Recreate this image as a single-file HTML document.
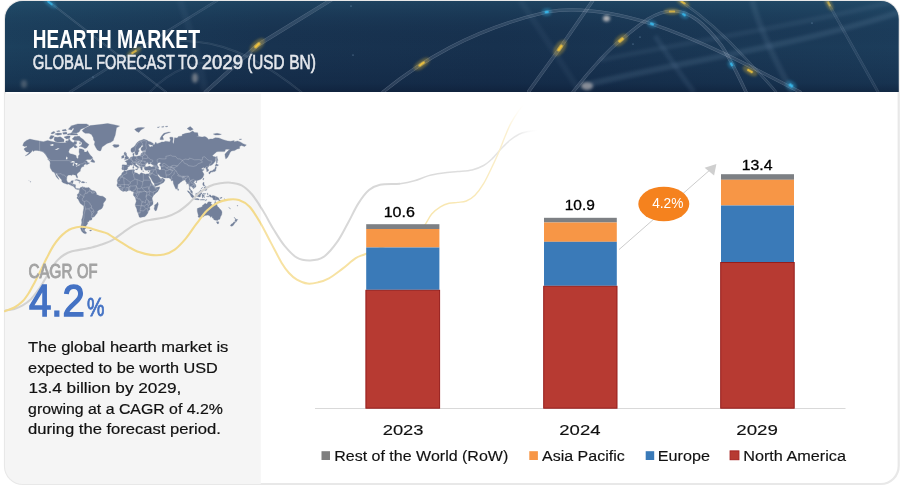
<!DOCTYPE html>
<html lang="en"><head><meta charset="utf-8"><title>Hearth Market</title>
<style>
html,body{margin:0;padding:0;background:#fff;}
body{width:900px;height:486px;overflow:hidden;font-family:"Liberation Sans",sans-serif;}
svg{display:block}
text{font-family:"Liberation Sans",sans-serif;}
</style></head><body>
<svg width="900" height="486" viewBox="0 0 900 486">
<defs>
<clipPath id="card"><rect x="5" y="1" width="893.7" height="483" rx="18" ry="18"/></clipPath>
<clipPath id="hdr"><rect x="5" y="1" width="894" height="90.9"/></clipPath>
<filter id="blur2" x="-20%" y="-20%" width="140%" height="140%"><feGaussianBlur stdDeviation="1.6"/></filter>
<filter id="blur1" x="-50%" y="-50%" width="200%" height="200%"><feGaussianBlur stdDeviation="1.2"/></filter>
<filter id="blur05" x="-50%" y="-50%" width="200%" height="200%"><feGaussianBlur stdDeviation="0.45"/></filter>
<linearGradient id="hg" x1="0" y1="0" x2="1" y2="0">
<stop offset="0" stop-color="#1c405d"/><stop offset="0.3" stop-color="#183350"/><stop offset="0.55" stop-color="#17314e"/><stop offset="0.8" stop-color="#1a3855"/><stop offset="1" stop-color="#1c3d5b"/>
</linearGradient>
<linearGradient id="hv" x1="0" y1="0" x2="0" y2="1">
<stop offset="0" stop-color="#2a5f7c" stop-opacity="0.38"/><stop offset="0.5" stop-color="#102040" stop-opacity="0"/><stop offset="0.9" stop-color="#0b1a36" stop-opacity="0.28"/><stop offset="1" stop-color="#08142c" stop-opacity="0.5"/>
</linearGradient>
<clipPath id="c1"><rect x="0" y="91" width="261" height="395"/></clipPath>
<clipPath id="c2"><rect x="261" y="91" width="139" height="395"/></clipPath>
<clipPath id="c3"><rect x="400" y="91" width="200" height="395"/></clipPath>
<linearGradient id="fadeY" gradientUnits="userSpaceOnUse" x1="400" y1="0" x2="526" y2="0">
<stop offset="0" stop-color="#f7e4a8"/><stop offset="0.6" stop-color="#f9e9b8"/><stop offset="0.85" stop-color="#fbf0d0"/><stop offset="1" stop-color="#ffffff" stop-opacity="0"/>
</linearGradient>
<linearGradient id="fadeG" gradientUnits="userSpaceOnUse" x1="400" y1="0" x2="540" y2="0">
<stop offset="0" stop-color="#d9d9d9"/><stop offset="0.6" stop-color="#e0e0e0"/><stop offset="0.85" stop-color="#e9e9e9"/><stop offset="1" stop-color="#ffffff" stop-opacity="0"/>
</linearGradient>
</defs>
<rect x="5" y="1" width="893.7" height="483" rx="18" ry="18" fill="#ffffff" stroke="#e8e8e8" stroke-width="2.2"/>
<g clip-path="url(#card)">
<rect x="5" y="93.6" width="255.8" height="392" fill="#f5f5f5"/>
<g clip-path="url(#hdr)">
<rect x="5" y="1" width="894" height="91" fill="url(#hg)"/>
<rect x="5" y="1" width="894" height="91" fill="url(#hv)"/>
<g filter="url(#blur2)" stroke="#7f9bbb" fill="none"><path d="M590 84 C 680 62 800 45 900 12" stroke-opacity="0.16" stroke-width="6"/><path d="M600 60 C 700 40 800 25 900 0" stroke-opacity="0.10" stroke-width="5"/><path d="M752 0 C 760 30 775 60 792 92" stroke-opacity="0.13" stroke-width="6"/><path d="M655 36 C 668 55 680 75 694 92" stroke-opacity="0.12" stroke-width="5"/><path d="M520 0 C 540 30 560 60 580 92" stroke-opacity="0.07" stroke-width="6"/><path d="M180 0 C 190 30 200 60 205 92" stroke-opacity="0.07" stroke-width="7"/></g><g fill="none" stroke-linecap="round"><mask id="tm1" maskUnits="userSpaceOnUse" x="0" y="0" width="900" height="92"><path d="M48 1 L166 92" stroke="#fff" stroke-width="1.9" fill="none"/><path d="M48 1 L166 92" stroke="#000" stroke-width="0.9" fill="none"/></mask><rect x="0" y="0" width="900" height="92" fill="#cdd8e6" fill-opacity="0.20" stroke="none" mask="url(#tm1)"/><path d="M48 1 L166 92" stroke="#cdd8e6" stroke-opacity="0.08" stroke-width="0.9"/><mask id="tm2" maskUnits="userSpaceOnUse" x="0" y="0" width="900" height="92"><path d="M70 92 L131.7 53.3 L218 0" stroke="#fff" stroke-width="2.5" fill="none"/><path d="M70 92 L131.7 53.3 L218 0" stroke="#000" stroke-width="1.5" fill="none"/></mask><rect x="0" y="0" width="900" height="92" fill="#cdd8e6" fill-opacity="0.20" stroke="none" mask="url(#tm2)"/><path d="M70 92 L131.7 53.3 L218 0" stroke="#cdd8e6" stroke-opacity="0.09" stroke-width="1.5"/><mask id="tm3" maskUnits="userSpaceOnUse" x="0" y="0" width="900" height="92"><path d="M205.5 92 L257.3 45.3 L331 0" stroke="#fff" stroke-width="3.7" fill="none"/><path d="M205.5 92 L257.3 45.3 L331 0" stroke="#000" stroke-width="2.7" fill="none"/></mask><rect x="0" y="0" width="900" height="92" fill="#cdd8e6" fill-opacity="0.30" stroke="none" mask="url(#tm3)"/><path d="M205.5 92 L257.3 45.3 L331 0" stroke="#cdd8e6" stroke-opacity="0.13" stroke-width="2.7"/><mask id="tm4" maskUnits="userSpaceOnUse" x="0" y="0" width="900" height="92"><path d="M180 41 C 215 40 252 52 305 95" stroke="#fff" stroke-width="1.9" fill="none"/><path d="M180 41 C 215 40 252 52 305 95" stroke="#000" stroke-width="0.9" fill="none"/></mask><rect x="0" y="0" width="900" height="92" fill="#cdd8e6" fill-opacity="0.16" stroke="none" mask="url(#tm4)"/><path d="M180 41 C 215 40 252 52 305 95" stroke="#cdd8e6" stroke-opacity="0.07" stroke-width="0.9"/><mask id="tm5" maskUnits="userSpaceOnUse" x="0" y="0" width="900" height="92"><path d="M150 92 C 170 70 200 58 230 62" stroke="#fff" stroke-width="1.9" fill="none"/><path d="M150 92 C 170 70 200 58 230 62" stroke="#000" stroke-width="0.9" fill="none"/></mask><rect x="0" y="0" width="900" height="92" fill="#cdd8e6" fill-opacity="0.12" stroke="none" mask="url(#tm5)"/><path d="M150 92 C 170 70 200 58 230 62" stroke="#cdd8e6" stroke-opacity="0.05" stroke-width="0.9"/><mask id="tm6" maskUnits="userSpaceOnUse" x="0" y="0" width="900" height="92"><path d="M383 92 C 420 62 470 30 546.7 12 C 575 7 610 11 652 24 C 700 40 750 66 800 92" stroke="#fff" stroke-width="3.2" fill="none"/><path d="M383 92 C 420 62 470 30 546.7 12 C 575 7 610 11 652 24 C 700 40 750 66 800 92" stroke="#000" stroke-width="2.2" fill="none"/></mask><rect x="0" y="0" width="900" height="92" fill="#cdd8e6" fill-opacity="0.32" stroke="none" mask="url(#tm6)"/><path d="M383 92 C 420 62 470 30 546.7 12 C 575 7 610 11 652 24 C 700 40 750 66 800 92" stroke="#cdd8e6" stroke-opacity="0.13" stroke-width="2.2"/><mask id="tm7" maskUnits="userSpaceOnUse" x="0" y="0" width="900" height="92"><path d="M529 91 L560 48 L592.5 1" stroke="#fff" stroke-width="3.4" fill="none"/><path d="M529 91 L560 48 L592.5 1" stroke="#000" stroke-width="2.4" fill="none"/></mask><rect x="0" y="0" width="900" height="92" fill="#cdd8e6" fill-opacity="0.32" stroke="none" mask="url(#tm7)"/><path d="M529 91 L560 48 L592.5 1" stroke="#cdd8e6" stroke-opacity="0.13" stroke-width="2.4"/><mask id="tm8" maskUnits="userSpaceOnUse" x="0" y="0" width="900" height="92"><path d="M573 92 C 590 70 610 48 621 40 C 640 24 655 11 673 11 C 690 11 705 24 721 45 C 730 58 738 75 746 92" stroke="#fff" stroke-width="3.2" fill="none"/><path d="M573 92 C 590 70 610 48 621 40 C 640 24 655 11 673 11 C 690 11 705 24 721 45 C 730 58 738 75 746 92" stroke="#000" stroke-width="2.2" fill="none"/></mask><rect x="0" y="0" width="900" height="92" fill="#cdd8e6" fill-opacity="0.32" stroke="none" mask="url(#tm8)"/><path d="M573 92 C 590 70 610 48 621 40 C 640 24 655 11 673 11 C 690 11 705 24 721 45 C 730 58 738 75 746 92" stroke="#cdd8e6" stroke-opacity="0.13" stroke-width="2.2"/><mask id="tm9" maskUnits="userSpaceOnUse" x="0" y="0" width="900" height="92"><path d="M679 0 C 700 14 725 36 745 58 C 758 72 768 82 776 92" stroke="#fff" stroke-width="2.5" fill="none"/><path d="M679 0 C 700 14 725 36 745 58 C 758 72 768 82 776 92" stroke="#000" stroke-width="1.5" fill="none"/></mask><rect x="0" y="0" width="900" height="92" fill="#cdd8e6" fill-opacity="0.26" stroke="none" mask="url(#tm9)"/><path d="M679 0 C 700 14 725 36 745 58 C 758 72 768 82 776 92" stroke="#cdd8e6" stroke-opacity="0.10" stroke-width="1.5"/><mask id="tm10" maskUnits="userSpaceOnUse" x="0" y="0" width="900" height="92"><path d="M826.5 0 L878 92" stroke="#fff" stroke-width="2.7" fill="none"/><path d="M826.5 0 L878 92" stroke="#000" stroke-width="1.7" fill="none"/></mask><rect x="0" y="0" width="900" height="92" fill="#cdd8e6" fill-opacity="0.20" stroke="none" mask="url(#tm10)"/><path d="M826.5 0 L878 92" stroke="#cdd8e6" stroke-opacity="0.09" stroke-width="1.7"/></g><g transform="translate(50.0 3.0) rotate(38)"><ellipse rx="8.3" ry="3.3" fill="#35b6ea" fill-opacity="0.30" filter="url(#blur1)"/><rect x="-3.2" y="-1.0" width="6.4" height="2.1" rx="0.8" fill="#35b6ea" fill-opacity="0.80" filter="url(#blur05)"/></g><g transform="translate(134.0 52.0) rotate(-32)"><ellipse rx="8.3" ry="3.6" fill="#f2c53d" fill-opacity="0.30" filter="url(#blur1)"/><rect x="-3.2" y="-1.1" width="6.4" height="2.2" rx="0.8" fill="#f2c53d" fill-opacity="0.75" filter="url(#blur05)"/></g><g transform="translate(257.3 45.3) rotate(-42)"><ellipse rx="9.4" ry="4.6" fill="#f2c53d" fill-opacity="0.30" filter="url(#blur1)"/><rect x="-3.6" y="-1.4" width="7.2" height="2.9" rx="0.8" fill="#f2c53d" fill-opacity="0.95" filter="url(#blur05)"/></g><g transform="translate(421.7 64.0) rotate(-36)"><ellipse rx="9.4" ry="4.1" fill="#f2c53d" fill-opacity="0.30" filter="url(#blur1)"/><rect x="-3.6" y="-1.3" width="7.2" height="2.6" rx="0.8" fill="#f2c53d" fill-opacity="0.90" filter="url(#blur05)"/></g><g transform="translate(546.7 12.0) rotate(-8)"><ellipse rx="5.2" ry="4.1" fill="#35b6ea" fill-opacity="0.30" filter="url(#blur1)"/><rect x="-2.0" y="-1.3" width="4.0" height="2.6" rx="0.8" fill="#35b6ea" fill-opacity="0.95" filter="url(#blur05)"/></g><g transform="translate(560.0 48.0) rotate(-55)"><ellipse rx="9.4" ry="5.1" fill="#f2c53d" fill-opacity="0.30" filter="url(#blur1)"/><rect x="-3.6" y="-1.6" width="7.2" height="3.2" rx="0.8" fill="#f2c53d" fill-opacity="0.95" filter="url(#blur05)"/></g><g transform="translate(621.0 40.0) rotate(-40)"><ellipse rx="8.3" ry="4.6" fill="#f2c53d" fill-opacity="0.30" filter="url(#blur1)"/><rect x="-3.2" y="-1.4" width="6.4" height="2.9" rx="0.8" fill="#f2c53d" fill-opacity="0.90" filter="url(#blur05)"/></g><g transform="translate(652.0 24.0) rotate(20)"><ellipse rx="5.2" ry="3.8" fill="#35b6ea" fill-opacity="0.30" filter="url(#blur1)"/><rect x="-2.0" y="-1.2" width="4.0" height="2.4" rx="0.8" fill="#35b6ea" fill-opacity="0.95" filter="url(#blur05)"/></g><g transform="translate(672.0 11.5) rotate(0)"><ellipse rx="8.3" ry="3.3" fill="#f2c53d" fill-opacity="0.30" filter="url(#blur1)"/><rect x="-3.2" y="-1.0" width="6.4" height="2.1" rx="0.8" fill="#f2c53d" fill-opacity="0.70" filter="url(#blur05)"/></g><g transform="translate(684.0 14.7) rotate(35)"><ellipse rx="5.2" ry="3.8" fill="#35b6ea" fill-opacity="0.30" filter="url(#blur1)"/><rect x="-2.0" y="-1.2" width="4.0" height="2.4" rx="0.8" fill="#35b6ea" fill-opacity="0.90" filter="url(#blur05)"/></g><g transform="translate(683.0 2.5) rotate(30)"><ellipse rx="7.3" ry="3.3" fill="#f2c53d" fill-opacity="0.30" filter="url(#blur1)"/><rect x="-2.8" y="-1.0" width="5.6" height="2.1" rx="0.8" fill="#f2c53d" fill-opacity="0.80" filter="url(#blur05)"/></g><g transform="translate(731.5 64.4) rotate(60)"><ellipse rx="4.8" ry="3.8" fill="#35b6ea" fill-opacity="0.30" filter="url(#blur1)"/><rect x="-1.8" y="-1.2" width="3.7" height="2.4" rx="0.8" fill="#35b6ea" fill-opacity="0.95" filter="url(#blur05)"/></g><g transform="translate(750.0 71.0) rotate(30)"><ellipse rx="8.3" ry="3.8" fill="#f2c53d" fill-opacity="0.30" filter="url(#blur1)"/><rect x="-3.2" y="-1.2" width="6.4" height="2.4" rx="0.8" fill="#f2c53d" fill-opacity="0.85" filter="url(#blur05)"/></g><g transform="translate(791.0 85.5) rotate(35)"><ellipse rx="6.2" ry="4.6" fill="#35b6ea" fill-opacity="0.30" filter="url(#blur1)"/><rect x="-2.4" y="-1.4" width="4.8" height="2.9" rx="0.8" fill="#35b6ea" fill-opacity="0.95" filter="url(#blur05)"/></g><g transform="translate(829.0 4.0) rotate(62)"><ellipse rx="7.3" ry="3.1" fill="#f2c53d" fill-opacity="0.30" filter="url(#blur1)"/><rect x="-2.8" y="-1.0" width="5.6" height="1.9" rx="0.8" fill="#f2c53d" fill-opacity="0.60" filter="url(#blur05)"/></g><g filter="url(#blur2)"><ellipse cx="606.5" cy="18.5" rx="3.5" ry="3" fill="#e6ddd8" fill-opacity="0.75"/><ellipse cx="587" cy="86" rx="6" ry="4" fill="#e6ddd8" fill-opacity="0.55"/><ellipse cx="195" cy="78" rx="3" ry="5" fill="#d8cfc8" fill-opacity="0.45"/><ellipse cx="24" cy="84" rx="3" ry="4" fill="#d8cfc8" fill-opacity="0.25"/></g><circle cx="351" cy="6" r="0.6" fill="#9fc4e8" fill-opacity="0.7"/><circle cx="353" cy="55" r="0.6" fill="#9fc4e8" fill-opacity="0.7"/><circle cx="93" cy="77" r="0.6" fill="#9fc4e8" fill-opacity="0.7"/><circle cx="640" cy="37" r="0.6" fill="#9fc4e8" fill-opacity="0.7"/><circle cx="812" cy="23" r="0.6" fill="#9fc4e8" fill-opacity="0.7"/><circle cx="633" cy="44" r="0.6" fill="#9fc4e8" fill-opacity="0.7"/><circle cx="830" cy="5" r="0.6" fill="#9fc4e8" fill-opacity="0.7"/>
</g>
</g>
<!-- map -->
<path d="M22.7 145.5L23.9 142.5L26.4 140.4L29.9 139.1L34.0 140.0L39.6 141.0L43.3 141.7L47.7 140.4L50.8 141.2L55.8 142.3L60.2 142.8L64.6 142.8L67.7 142.3L69.0 138.5L70.8 141.2L73.3 142.8L74.6 141.2L76.8 141.7L76.5 143.9L74.0 144.9L72.7 147.0L69.6 149.0L68.6 151.9L69.9 153.7L72.7 154.2L76.1 155.5L76.5 157.7L77.7 158.8L78.3 158.1L78.3 155.9L79.6 154.2L79.0 152.1L79.3 148.7L81.8 149.0L84.0 150.0L84.3 152.1L86.5 152.1L87.4 150.6L89.0 153.2L90.2 155.0L91.8 156.4L92.7 158.1L90.8 159.6L87.1 159.6L85.2 160.6L87.1 161.0L87.4 162.6L89.6 163.0L87.7 164.2L86.5 164.8L86.5 163.8L84.6 164.6L83.6 165.7L84.0 166.3L81.8 167.1L80.8 168.7L80.2 170.2L80.5 171.1L79.0 172.1L77.1 173.8L76.9 175.1L77.7 177.0L77.4 178.1L76.6 177.5L76.0 176.2L75.5 174.9L74.3 174.9L72.7 174.6L71.8 175.4L70.5 175.1L68.6 175.1L67.1 176.2L66.8 178.2L66.6 179.9L67.4 181.9L68.6 182.7L70.5 182.5L71.1 180.9L73.3 180.6L73.0 182.2L72.4 184.2L74.0 184.3L75.6 184.8L75.4 186.8L75.8 188.0L76.8 188.7L78.0 188.4L79.3 189.0L78.6 189.6L77.7 189.6L76.8 189.3L75.8 189.1L74.6 188.0L74.0 187.1L73.0 186.1L71.8 185.8L70.2 185.1L68.6 184.0L67.1 184.3L65.2 183.5L63.0 182.7L61.8 181.4L61.8 179.9L60.2 178.2L59.3 177.1L57.7 175.5L57.1 174.0L56.0 173.6L56.1 174.8L57.4 176.5L58.6 178.6L59.1 179.6L57.7 178.4L56.1 176.5L55.5 174.8L54.6 173.0L53.6 172.0L52.4 171.6L51.5 170.0L50.3 168.0L50.0 166.1L50.2 163.0L49.8 161.1L50.8 160.6L49.6 159.3L48.0 158.5L46.5 155.9L45.2 154.2L43.3 152.3L41.5 151.4L39.6 150.9L37.1 150.4L34.9 150.4L33.0 151.6L32.7 150.0L31.4 151.9L29.6 153.7L27.7 155.0L25.2 155.9L27.1 154.4L28.9 152.8L28.9 152.1L26.4 151.9L24.9 150.4L23.9 149.0L24.9 148.0L27.1 147.0L26.8 146.0L24.6 146.5ZM77.7 136.2L80.2 137.3L83.3 139.4L85.8 142.3L89.0 144.4L87.7 146.5L86.5 148.0L84.9 148.5L82.7 147.2L80.8 146.5L79.0 146.5L81.5 144.9L82.1 142.8L79.0 140.6L74.6 140.4L72.1 138.9L74.6 136.5ZM54.0 139.4L54.6 137.1L57.7 137.3L60.2 136.8L61.8 137.7L64.0 139.4L64.0 141.7L60.8 141.9L57.1 141.9L54.9 141.2ZM49.3 138.3L50.8 135.5L54.3 135.9L52.7 138.3L50.8 139.2ZM71.5 132.7L74.0 128.8L70.8 126.1L77.7 123.9L86.5 123.9L89.0 125.2L85.2 127.4L80.8 129.3L79.0 132.0L76.5 132.9ZM68.3 134.0L71.5 132.9L77.1 133.7L77.7 135.0L70.8 135.1ZM54.6 134.0L57.7 133.1L61.5 133.3L61.5 134.6L57.7 135.2ZM68.3 129.3L70.8 126.4L73.3 127.4L71.5 130.0ZM64.0 137.1L67.1 135.9L70.2 135.9L69.6 138.3L66.5 138.9ZM62.7 132.7L66.5 132.0L67.1 134.0L63.3 134.2ZM62.1 130.0L65.8 129.3L66.5 130.7L62.7 131.1ZM73.3 145.5L75.2 144.9L77.4 147.0L75.8 148.0L74.0 147.3ZM90.6 161.6L92.7 158.5L93.0 159.8L94.6 161.0L94.6 162.4L92.7 162.2ZM47.5 159.1L49.6 159.8L50.5 161.1L49.3 160.7ZM74.6 180.2L76.5 179.4L79.0 180.0L81.3 181.4L79.3 181.6L79.0 181.1L76.8 180.2ZM81.2 182.5L82.1 181.6L84.0 181.7L85.0 182.5L83.3 182.9ZM78.8 182.6L80.0 182.7L79.6 183.0ZM85.7 182.5L86.6 182.6L86.1 182.9ZM30.2 181.4L30.8 181.7L30.5 182.2L30.1 181.8ZM28.8 180.5L29.2 180.7L28.9 180.8ZM82.1 130.4L85.2 128.1L90.2 125.6L99.6 124.6L107.7 123.5L114.0 124.7L119.6 126.1L116.5 127.8L115.8 132.0L115.2 135.2L114.0 138.3L113.3 140.6L110.8 142.3L107.1 143.4L104.6 145.3L102.1 147.0L100.8 150.7L99.6 150.9L97.4 150.0L95.8 147.5L94.3 144.4L94.9 141.7L93.6 140.0L93.3 137.7L91.5 134.6L89.0 133.3L85.2 133.3L83.3 132.0ZM112.5 145.5L114.0 144.5L116.5 144.7L118.6 144.7L119.2 146.0L118.3 146.7L116.1 147.6L113.6 147.1L114.0 146.2ZM79.3 189.0L80.5 187.5L82.1 187.1L83.0 186.5L83.0 187.5L84.0 186.9L85.2 187.7L87.4 187.8L89.0 187.6L90.2 189.0L92.1 190.6L94.0 190.7L95.5 191.5L96.5 193.4L96.5 194.4L97.7 195.0L99.9 196.0L102.7 196.2L104.6 197.6L105.8 198.5L105.8 200.1L104.3 202.0L103.3 203.3L103.3 205.6L102.1 208.2L100.8 209.2L99.0 209.9L97.4 211.3L97.3 213.0L95.8 214.7L94.3 216.8L92.4 217.4L91.3 216.8L92.1 218.5L91.6 219.9L89.0 220.4L88.8 221.8L87.1 221.9L87.9 223.1L86.8 225.0L85.5 226.2L86.6 227.4L84.6 229.5L84.9 231.0L86.8 233.1L85.2 233.8L83.3 232.9L81.5 231.1L80.5 228.2L81.1 225.8L81.8 222.7L81.6 219.7L82.4 217.5L83.0 214.7L83.1 211.9L83.8 208.6L83.8 206.1L82.7 205.3L80.2 203.3L79.5 202.0L78.3 199.5L77.0 198.2L77.1 197.1L77.7 196.4L77.2 195.0L77.7 193.9L78.5 193.4L79.3 191.9L79.4 190.3ZM89.6 230.3L91.5 230.1L91.1 231.0L89.9 231.0ZM122.1 169.8L121.8 168.6L122.2 166.9L122.0 165.3L122.7 164.8L125.5 164.9L126.8 165.0L127.0 163.0L126.0 161.8L124.8 161.2L126.8 160.8L126.6 160.0L127.8 160.2L128.7 159.0L129.9 158.6L130.6 157.2L132.1 156.8L133.2 156.4L132.9 155.0L132.8 153.7L134.3 153.1L134.1 154.2L133.9 155.5L134.6 156.4L136.4 156.4L139.3 155.8L140.1 156.0L140.8 155.0L140.9 153.7L141.8 153.1L142.8 153.5L142.4 151.7L145.2 151.4L146.4 150.9L145.2 150.4L143.3 150.7L141.8 150.9L141.0 149.5L141.1 148.0L143.3 146.0L142.7 145.2L141.4 145.5L141.0 146.7L138.9 148.5L138.4 150.0L139.4 151.1L138.1 152.3L138.0 154.2L136.6 155.0L135.7 155.0L135.5 154.2L134.7 152.1L134.3 151.4L132.7 152.6L131.3 152.1L130.8 150.0L131.4 148.3L133.3 147.3L135.2 145.5L136.4 143.4L137.7 141.9L139.6 140.8L141.4 140.2L143.8 139.3L145.5 139.7L147.1 140.2L148.3 141.3L150.8 141.9L153.3 143.4L153.3 144.7L151.4 144.9L148.9 144.2L148.3 144.4L149.3 146.0L149.6 146.7L151.1 147.0L151.4 146.2L153.0 146.4L152.7 144.9L154.6 144.6L155.2 143.0L155.5 142.3L156.4 142.8L156.8 144.1L157.7 143.4L160.8 142.5L161.4 141.9L163.9 141.9L165.5 141.2L167.7 141.4L169.6 141.9L170.5 139.7L169.6 137.7L170.8 137.1L173.0 137.4L173.0 139.4L172.7 142.3L173.6 143.9L173.9 142.3L174.3 138.9L174.6 137.7L176.4 138.0L178.0 137.4L178.3 136.5L182.1 135.9L182.1 134.6L185.8 133.3L189.6 132.7L192.7 131.1L194.6 132.4L197.7 132.7L198.3 135.9L196.4 136.1L198.6 136.5L202.1 137.1L204.9 136.5L207.1 137.7L208.6 139.4L210.2 138.9L212.7 138.9L215.2 137.7L218.9 137.9L221.4 138.9L223.3 139.7L227.7 140.9L230.8 141.2L234.3 140.6L233.9 141.7L237.7 140.9L240.2 141.9L243.6 143.9L246.4 144.9L244.6 146.5L241.4 145.5L239.6 146.5L239.6 148.5L237.1 149.0L234.6 150.6L231.4 150.9L229.9 152.8L229.3 154.2L228.6 155.5L227.7 157.2L225.8 158.9L225.2 156.8L224.9 154.2L226.1 152.8L228.3 150.6L229.9 149.5L227.7 149.3L225.8 149.3L224.6 151.6L222.1 151.6L218.9 151.6L216.8 151.7L213.9 154.2L212.3 155.8L213.6 156.4L215.8 157.0L215.5 158.9L215.4 161.0L213.9 163.0L212.4 164.6L210.8 165.5L209.6 165.6L208.8 166.5L207.7 167.6L207.4 168.1L208.6 169.8L208.5 170.9L207.4 171.5L206.6 171.5L206.8 170.0L205.8 169.1L206.1 168.0L205.4 167.6L203.6 168.4L203.9 167.1L202.1 168.2L201.3 168.7L202.1 169.6L203.3 169.4L204.3 169.8L203.0 170.5L202.3 171.3L203.2 172.8L203.9 174.1L203.8 175.1L203.0 176.9L202.3 177.9L200.8 179.2L198.9 180.0L197.1 180.6L196.6 181.4L196.3 180.6L195.2 180.5L194.3 181.6L193.8 182.3L194.9 183.8L195.8 185.1L196.0 186.8L194.6 187.8L193.3 188.9L193.3 188.0L192.4 187.6L191.8 186.8L190.8 186.3L190.4 185.8L190.2 186.8L189.8 188.0L190.4 189.1L190.8 190.1L191.8 190.6L192.4 191.5L192.4 192.8L192.8 193.5L191.8 193.1L191.0 192.5L190.4 191.2L190.2 190.3L189.1 189.3L189.3 188.0L189.3 186.8L188.8 184.8L188.6 183.8L187.7 183.6L186.6 184.2L186.8 182.9L186.1 181.9L185.2 180.6L184.9 179.8L183.9 180.2L183.0 180.4L182.1 180.9L181.8 181.6L180.8 181.9L179.3 183.6L177.9 184.4L177.8 186.1L177.6 187.8L177.1 188.5L176.6 188.8L176.1 189.3L175.4 188.2L174.6 186.4L173.9 184.8L173.3 183.2L173.2 181.9L173.1 180.9L173.0 180.2L171.8 181.0L170.8 180.1L171.4 179.7L170.4 179.1L169.6 178.4L169.3 177.9L166.4 178.1L163.6 177.9L163.2 176.9L161.8 177.1L159.9 176.3L159.1 174.8L158.2 174.6L157.7 174.9L158.1 176.0L158.9 177.1L159.1 177.7L159.9 177.6L159.9 178.6L161.4 178.8L162.8 177.4L163.0 178.4L164.4 179.2L165.1 179.9L164.3 181.3L163.8 182.2L162.2 183.3L160.3 184.2L158.3 185.3L155.8 186.2L154.9 186.3L154.4 184.9L154.3 183.5L153.0 181.9L152.1 180.6L151.4 178.9L150.5 177.5L149.6 176.2L149.4 175.1L149.1 176.3L148.4 175.6L148.1 174.8L147.9 174.0L149.1 173.8L149.6 172.7L150.2 170.9L150.2 170.0L148.9 170.3L147.7 170.2L146.8 170.3L145.8 170.3L144.9 169.8L144.3 168.7L144.3 168.0L144.1 167.5L145.8 166.9L147.4 166.7L149.6 166.1L151.4 166.9L153.6 166.5L153.6 165.6L152.1 164.6L151.1 163.8L150.8 163.5L151.8 162.2L149.6 162.8L150.5 163.5L149.6 163.9L148.6 164.2L148.1 163.2L148.3 162.8L147.1 162.5L146.4 163.4L145.7 164.2L145.2 165.3L145.2 166.1L145.5 166.6L144.3 167.0L142.7 167.0L142.4 167.6L141.9 167.4L142.1 168.4L142.7 169.1L142.1 169.5L142.1 170.2L141.4 170.0L140.9 169.2L140.8 168.4L139.9 167.2L139.9 166.1L138.6 165.3L137.4 164.6L136.8 163.6L136.2 163.4L135.4 163.5L135.5 164.6L136.3 165.1L137.7 166.3L139.3 167.5L138.3 167.2L138.1 168.4L137.7 169.1L137.5 169.1L137.8 168.0L137.4 167.5L136.4 166.9L135.4 166.3L134.3 165.3L133.2 164.3L132.4 164.7L131.4 165.3L130.2 164.9L129.6 165.3L129.7 166.1L128.3 166.8L127.7 167.6L127.5 168.1L127.8 168.5L127.3 169.3L126.5 170.0L124.9 170.0L124.2 170.5L123.8 170.0L123.1 169.7ZM124.0 170.7L126.5 171.1L128.3 170.2L129.6 169.9L132.1 169.8L133.9 169.6L134.6 169.9L134.3 170.9L134.1 172.0L134.6 172.6L135.8 172.8L137.3 173.2L138.6 174.2L139.9 174.5L140.2 173.4L141.4 172.8L143.3 173.6L145.8 174.2L147.1 173.8L147.9 174.0L148.1 174.8L148.6 176.2L148.9 177.2L149.9 178.9L150.8 180.6L151.0 182.2L151.8 182.9L152.4 184.5L153.5 185.5L154.7 186.4L154.8 187.1L155.5 187.7L157.1 187.3L159.7 186.8L159.4 188.4L158.3 190.6L157.4 191.9L155.8 193.1L154.3 194.7L153.3 195.7L152.4 197.4L152.1 198.5L152.4 200.1L153.0 201.4L153.0 203.7L152.4 205.0L150.8 205.9L149.6 207.2L149.9 209.6L148.3 210.9L148.1 212.3L147.4 213.7L145.8 215.8L144.6 216.7L142.7 216.9L140.2 217.4L139.2 217.0L138.8 215.4L138.0 213.0L137.1 211.3L136.8 208.9L135.5 206.3L135.1 205.0L135.9 202.4L136.3 201.1L135.4 198.2L135.0 196.9L133.6 195.7L133.3 194.1L133.8 192.8L133.6 191.9L133.0 191.5L132.1 191.6L131.1 190.9L130.2 190.3L128.3 190.6L126.5 191.4L124.9 191.1L123.0 191.6L121.8 190.7L120.5 190.0L119.4 188.7L119.0 187.8L118.2 187.2L117.3 186.4L116.8 185.0L117.4 183.8L117.6 182.2L117.1 180.9L117.7 179.1L118.6 177.4L119.6 176.3L120.6 175.6L121.5 174.9L121.6 173.9L122.4 172.5L123.5 171.9ZM157.7 202.1L158.3 204.3L157.8 205.9L156.6 210.2L155.3 210.9L154.3 209.2L154.1 208.2L154.6 206.9L154.6 205.0L156.0 204.3L156.9 203.2ZM124.3 159.7L125.5 159.4L127.7 159.1L128.6 158.8L128.8 157.5L127.9 157.2L127.6 156.4L126.8 155.5L126.5 154.6L126.5 153.2L125.2 153.2L125.8 152.2L124.6 152.2L124.0 153.2L124.3 154.6L124.7 155.5L125.6 155.6L125.8 156.8L124.9 157.0L125.0 157.9L124.5 158.3L125.6 158.6L125.0 158.9ZM121.5 158.3L123.8 157.9L124.0 156.8L124.1 155.7L123.0 155.2L122.4 155.9L121.5 156.4L121.8 157.2ZM209.1 172.3L209.6 171.8L210.5 171.1L212.4 170.8L213.3 169.7L214.3 169.5L215.2 167.8L215.4 166.7L216.1 166.6L216.4 168.0L215.8 169.1L215.8 170.5L215.2 171.3L214.3 171.5L213.3 171.6L212.7 172.3L212.1 171.6L210.8 172.6L210.2 172.7L209.9 173.8L209.1 173.9L208.8 172.8ZM215.2 166.1L215.5 165.1L216.3 163.5L217.4 164.4L218.6 164.9L217.4 166.1L216.1 165.7ZM216.4 163.0L217.4 162.4L217.1 160.2L218.0 160.6L217.2 158.1L217.1 156.2L216.4 156.8L216.4 159.8ZM202.8 179.6L203.3 178.1L203.9 178.2L203.3 180.2ZM195.6 182.1L196.8 181.6L197.1 181.9L196.1 182.7ZM177.6 188.2L178.4 189.0L178.8 190.0L178.0 190.6L177.6 190.0ZM203.0 182.5L204.1 182.5L203.9 184.2L205.2 186.1L204.6 185.8L203.3 185.7L203.0 185.1L202.7 184.2ZM203.9 190.0L204.9 189.0L206.1 188.2L206.8 189.6L206.1 190.6L205.2 190.3ZM203.9 186.9L204.7 187.1L206.1 186.4L206.0 187.8L204.9 188.4L204.3 187.7ZM201.0 189.0L202.4 187.2L202.6 187.5L201.3 189.1ZM195.8 193.4L197.1 193.3L198.3 192.4L199.6 191.2L200.8 190.0L202.1 191.1L201.3 192.2L202.1 193.8L201.1 194.1L200.5 195.4L200.2 196.9L199.3 196.9L197.7 196.5L196.6 196.2L195.8 194.7ZM187.3 190.8L188.6 191.1L190.5 193.0L192.4 194.4L193.9 196.3L193.8 198.1L193.0 198.1L191.4 196.9L190.4 195.0L189.3 193.3L188.3 192.4ZM193.5 198.7L194.4 198.2L195.5 198.7L197.1 198.5L198.3 198.8L199.3 199.4L199.1 199.9L197.1 199.7L195.2 199.4ZM202.4 197.9L202.4 196.6L201.9 196.2L202.6 194.1L203.3 193.6L205.2 193.8L205.9 193.4L205.5 194.1L203.3 194.1L202.8 195.0L203.6 195.0L204.8 194.9L203.9 195.5L203.6 195.7L204.6 196.9L204.3 197.8L203.3 196.3L202.9 196.3L202.9 197.9ZM200.2 199.7L202.1 199.6L204.6 199.6L204.4 200.1L202.1 200.1L200.2 200.1ZM204.9 201.0L207.1 199.7L205.8 199.7ZM207.4 193.1L208.0 193.4L208.0 194.9L207.5 194.6ZM206.4 196.4L209.4 196.3L209.3 196.8L207.1 196.7ZM208.8 194.9L210.6 194.9L211.3 196.5L212.8 195.5L215.0 196.0L217.5 197.3L219.1 198.2L218.6 198.8L219.4 199.8L221.0 201.0L219.4 200.9L218.1 199.8L216.6 199.8L216.3 200.2L215.0 200.2L213.8 199.5L213.1 199.7L213.0 198.5L213.6 199.0L211.9 197.3L210.0 196.9L209.9 196.2L210.6 196.0L209.4 195.8ZM219.7 197.9L221.3 197.6L222.1 197.1L221.9 197.9L220.6 198.4ZM197.3 208.6L197.3 211.3L198.0 214.0L198.4 215.4L198.0 217.0L199.8 217.5L201.1 216.8L203.3 216.8L204.8 215.6L206.7 215.2L208.0 215.0L209.8 215.9L210.8 217.4L212.0 216.1L212.3 217.9L213.3 218.3L213.9 219.7L215.8 220.3L217.7 220.4L218.6 219.6L219.8 219.2L220.5 216.8L221.7 214.7L222.0 212.6L221.7 210.9L220.5 209.6L219.5 208.6L218.6 207.2L217.5 206.6L217.0 205.0L216.9 204.0L215.8 203.5L215.6 202.0L215.2 201.2L214.7 202.7L214.5 204.3L213.9 205.6L213.0 205.6L212.0 204.6L210.8 204.0L211.1 202.7L211.6 202.2L210.5 202.0L208.9 201.7L208.0 202.2L207.3 203.0L207.0 204.0L206.1 204.0L205.5 203.3L204.5 203.7L203.6 204.8L202.5 205.3L202.5 206.3L201.1 207.2L199.2 207.7ZM216.5 221.7L218.8 221.8L218.6 223.6L217.7 223.9L216.8 222.9ZM234.1 217.1L235.3 218.6L236.2 219.3L237.8 219.5L236.8 220.8L235.9 222.4L235.4 222.2L235.6 221.2L234.8 220.7L235.4 219.7L235.3 219.0L234.3 217.5ZM234.1 221.6L235.1 222.5L234.2 224.1L233.1 225.6L231.8 226.3L230.3 225.8L231.2 224.2L232.9 223.3ZM228.7 207.4L230.6 208.7L230.3 208.8L228.6 207.6ZM237.0 205.6L237.8 205.6L237.6 206.1L237.0 206.0ZM224.2 198.8L226.7 200.1L226.4 200.4L224.1 199.1ZM134.6 129.3L137.7 127.8L141.4 127.4L144.6 127.8L140.8 130.0L138.9 132.4L136.4 131.3ZM159.9 139.4L162.1 139.8L163.6 139.4L162.7 136.5L165.2 134.0L170.5 132.3L168.9 132.0L163.9 133.3L162.1 135.2L160.8 137.1ZM187.1 128.6L190.2 126.4L193.3 129.3L190.2 130.7ZM213.3 134.0L217.1 133.3L221.4 134.3L218.9 134.9L215.2 135.0ZM157.1 127.4L159.6 126.7L158.9 127.5ZM161.4 127.0L163.9 126.2L163.3 127.3ZM165.2 126.5L167.7 126.1L167.1 127.0ZM239.3 139.2L241.4 138.9L241.4 139.4L239.6 139.7ZM135.5 169.1L137.4 168.9L137.1 170.0L135.5 169.4ZM132.8 166.9L133.8 166.9L133.7 168.2L132.9 168.4ZM133.1 165.7L133.6 165.3L133.6 166.5L133.1 166.4ZM142.4 170.9L144.1 171.1L143.9 171.3L142.4 171.1ZM147.9 171.3L149.3 170.8L148.8 171.5L148.0 171.5ZM50.8 133.3L53.3 131.6L55.2 132.0L54.0 133.3L52.1 134.0ZM56.5 131.2L59.0 130.4L60.2 131.3L57.7 131.7ZM65.5 141.2L67.4 140.6L68.0 142.0L66.1 142.2ZM67.4 134.0L69.3 133.8L69.3 134.9L67.7 134.9ZM77.1 136.3L79.6 136.3L79.9 137.2L77.7 137.3ZM79.3 142.8L80.5 142.6L80.6 143.6L79.6 143.7Z" fill="#73809a" stroke="#73809a" stroke-width="0.3" stroke-linejoin="round"/>
<path d="M158.6 162.8L160.2 162.4L160.7 163.5L159.7 164.1L159.4 165.3L160.5 166.3L160.8 167.6L161.1 169.4L159.9 169.8L158.8 169.4L158.5 168.4L158.8 167.2L157.7 165.7L157.3 164.3L157.9 163.3ZM70.2 162.4L72.7 161.0L74.6 161.6L74.8 162.6L73.3 162.5L71.5 162.4ZM72.8 166.1L72.7 164.2L74.0 163.0L74.6 163.4L73.8 164.6L73.6 166.1ZM74.9 163.0L77.1 163.0L77.7 164.0L76.6 165.2L76.0 164.6L75.5 163.8ZM75.6 166.3L78.3 165.4L78.0 164.7L79.9 164.6L79.9 165.0L78.1 165.7L76.8 166.5ZM49.6 144.9L52.7 143.9L54.0 144.9L52.1 146.0ZM54.6 150.0L57.7 148.2L59.6 148.5L57.1 149.8ZM65.8 159.3L66.5 156.5L67.4 157.2L67.4 159.3Z" fill="#f5f5f5"/>
<path d="M50.8 160.6L68.3 160.6L72.1 161.4L74.9 162.6L76.1 163.8L76.1 166.1L78.3 165.3L79.9 164.6L81.0 163.8L83.0 163.8L84.0 162.6L84.6 161.9L85.3 162.2L85.8 163.8M39.6 141.0L39.6 150.9L43.3 151.9L46.5 155.0M54.6 173.0L58.3 173.9L60.2 173.8L61.1 173.5L62.4 175.1L64.3 174.9L65.5 176.5L66.9 177.5M70.2 185.1L70.8 184.2L71.1 183.0L72.0 183.0L72.4 184.2M72.0 183.0L70.8 183.0L70.5 182.5M71.8 185.8L71.9 185.2L72.4 184.5M73.0 186.1L73.5 185.6L74.6 184.9L75.6 184.8M74.1 187.3L75.2 187.5L75.5 187.5M75.8 189.1L76.0 188.3M95.5 191.5L94.0 192.9L92.7 193.1L90.2 191.2L87.7 191.9L87.7 193.1L85.8 193.4L84.0 194.4L84.0 197.1L82.1 198.8L82.7 200.8L84.3 201.4L86.9 200.8L89.9 203.1L90.2 204.8L91.5 205.6L91.6 207.2L91.5 208.6L92.9 208.8L93.6 210.9L94.1 212.1L91.8 214.1L94.3 216.8M85.5 209.1L84.9 211.3L84.0 214.7L84.0 217.5L83.3 220.4L82.9 224.2L82.4 228.2L83.3 230.7L84.9 231.0M84.3 201.4L84.6 204.0L84.3 205.6L83.8 206.1M84.3 205.6L85.2 206.9L85.5 209.1L88.6 208.8L91.5 207.2M88.6 208.8L91.5 212.1L93.6 210.9M91.5 212.1L91.8 214.1M91.8 214.1L91.3 216.8M83.0 186.5L82.4 188.7L84.0 190.0L85.5 190.6L85.8 193.4M78.5 193.4L80.6 194.4L84.0 197.1M77.5 196.6L78.6 197.6L80.6 194.4M90.2 189.0L89.6 190.6L90.2 191.2M92.1 190.6L91.5 193.1L92.7 193.1M94.0 190.7L93.8 192.9M119.6 176.4L122.3 176.4L122.3 175.5L126.8 173.4L126.5 171.1M117.1 180.9L119.6 180.7L119.6 179.6L120.2 179.2L120.2 177.5L122.3 177.5L122.3 176.4M122.3 176.7L124.7 178.2L123.6 178.2L124.3 184.5L120.2 184.8L120.1 185.0L117.4 183.8M124.7 178.2L128.6 180.9L129.8 182.2L130.3 182.1L130.3 183.8L127.7 184.8L124.3 184.5M133.6 174.7L133.9 177.2L135.2 179.2M130.3 182.1L135.2 179.2L137.1 179.6L142.7 181.9L142.7 181.6L143.3 181.6L143.3 173.6M143.3 180.2L150.8 180.2M142.7 181.6L142.7 184.4L141.8 186.1L141.9 187.4L142.7 188.9M137.1 179.6L137.4 184.2L136.1 185.8M129.9 186.9L130.2 185.8L132.1 186.1L133.9 185.9L136.1 185.8L136.6 186.4L136.0 188.0L135.1 190.0L133.6 190.3L133.0 191.5M133.6 174.7L132.4 172.3L133.0 169.9M133.6 174.7L134.9 172.6M150.4 185.1L151.4 185.0L154.2 186.4L154.7 187.1L154.4 187.6L155.2 188.7L157.7 189.3L155.8 191.2L153.9 191.7L152.4 192.2L150.2 191.6L148.9 189.3L149.6 187.1L150.4 185.1M150.4 185.1L150.8 183.5L151.8 182.9M142.7 188.9L144.8 191.2L146.9 192.1L148.9 191.7L150.2 191.6M148.9 189.3L148.3 188.0L148.6 186.8L147.7 186.8L142.7 188.0M153.3 195.7L153.3 192.5L153.9 191.7M148.9 195.0L151.3 196.4L152.2 197.4M148.9 191.7L149.6 193.4L148.9 195.0M135.4 198.2L138.0 198.1L138.3 199.2L139.9 198.8L141.4 201.4L142.7 201.4L143.5 201.8L145.5 202.9L145.4 200.4L146.9 199.6L146.1 197.3L146.2 195.3L147.1 192.9L146.9 192.1L144.8 191.2L141.7 191.9L139.3 192.2L138.8 194.7L137.7 195.7L137.3 197.1L135.4 198.2M135.1 205.5L136.4 205.5L139.3 205.5L142.3 205.7M142.7 201.4L142.7 202.7L141.4 202.7L141.4 204.8L142.3 205.7M140.2 208.6L140.2 212.9L138.0 213.0M140.2 208.6L140.8 208.6L140.8 206.1L142.3 205.7M140.2 210.4L142.1 210.8L143.7 211.0L144.6 209.6L146.1 208.7L145.0 207.6L143.5 205.8L142.3 205.7M143.5 205.8L144.6 205.9L146.7 204.4L148.3 203.3L148.3 200.4L146.9 199.6M146.7 204.4L148.3 205.1L148.1 206.5L148.3 208.1L147.3 208.8L146.1 208.7M147.3 208.8L147.7 210.2L147.7 211.8L148.3 211.9M148.9 195.0L146.8 195.0L146.1 197.3M148.3 200.4L149.3 201.8L151.1 201.9L152.9 201.1M149.3 201.8L149.6 204.6L148.3 205.1M136.1 185.8L137.1 188.0L137.4 189.6L136.8 191.2L137.7 193.1L139.3 192.2M137.1 188.0L139.6 188.7L141.9 187.4M136.8 191.2L141.7 191.9M133.8 192.9L136.0 193.0L136.8 195.0L136.4 196.0L135.0 196.9M136.0 193.0L137.7 193.1M126.0 191.2L126.0 188.4L126.0 187.4M128.4 190.5L127.8 187.4M129.4 190.3L129.9 186.9M128.7 190.5L128.6 188.7L128.3 187.4M123.0 191.6L122.5 189.6L122.8 187.9L124.3 187.8L124.3 184.5M126.0 187.4L127.8 187.4L129.9 186.9M120.5 190.0L121.3 189.0L122.5 189.6M119.4 188.7L120.8 188.0L121.3 189.0M118.3 187.4L119.1 186.4L120.6 186.5L122.5 187.4L122.8 187.9M117.3 186.4L120.6 186.5M120.6 186.5L120.1 185.0M127.7 184.8L129.9 186.9M138.0 213.0L140.2 212.9M146.4 141.2L145.8 144.9L146.4 148.5L145.2 150.4M145.2 151.4L144.9 153.2L145.2 154.6L147.1 155.5L147.7 157.2L147.4 158.1L148.9 157.9L150.2 159.5L152.7 160.1L152.7 161.6L151.6 162.0M122.2 166.2L123.6 166.3L123.3 167.8L123.1 169.7M126.6 165.0L129.7 165.8M129.3 158.8L131.4 160.2L132.8 160.6L132.4 161.7L131.4 162.8L132.1 163.2L132.4 164.7M132.1 156.9L131.4 158.3L131.4 160.2M129.8 158.6L131.4 158.3M136.6 156.5L136.9 158.9L135.3 159.5L136.3 160.8L135.8 161.8L133.7 161.8L132.4 161.7M136.9 158.9L139.6 160.2L141.9 160.6L142.7 159.3L142.4 158.1L142.4 156.4L140.1 156.0M132.1 163.2L134.3 162.4L136.3 162.6L136.3 163.3M136.3 162.6L138.0 162.4L138.3 161.4L136.3 160.8M138.3 161.4L139.6 160.2M138.3 161.4L139.4 161.6L141.6 161.2M138.0 162.4L139.4 163.1L140.4 162.8M136.3 163.3L137.4 163.2L139.6 163.4L139.8 163.9L137.7 163.8L138.6 165.3M139.8 163.9L139.9 165.3L140.5 166.9L140.8 166.9L139.9 167.2M139.8 163.9L141.8 164.2M140.5 166.9L142.1 166.6L144.1 166.3L144.3 167.0M141.8 164.2L141.7 165.7L142.1 166.6M144.1 166.3L145.2 166.1M134.7 151.9L135.5 150.0L135.2 147.5L136.8 144.9L138.0 142.8L140.2 141.7M142.7 145.2L142.4 143.4L140.5 141.7L143.9 140.6L145.8 140.9L146.4 141.2M141.9 160.6L141.6 161.2L144.3 161.2L145.3 163.4L146.2 163.5M142.4 158.1L146.8 158.7L147.4 158.1M142.4 156.4L144.3 154.9L145.2 154.6M141.6 161.2L140.4 162.8L141.8 164.2L141.9 164.4L145.6 164.8M140.8 154.5L144.3 154.9M141.1 152.9L143.3 152.8L144.9 153.2M133.1 155.6L133.8 155.7M144.3 161.2L145.3 161.2L146.4 162.7M152.7 164.9L155.2 165.6L157.7 166.3M153.6 166.5L155.8 166.7L156.8 166.3M154.9 166.8L155.5 167.8M155.8 166.7L156.8 168.4L157.7 168.0M157.7 162.6L157.1 161.0L157.1 159.5L159.6 158.5L162.1 158.9L164.6 158.9L166.1 158.7L165.8 156.4L170.8 155.2L172.1 156.2L175.5 156.4L177.7 158.9L179.9 158.9L182.3 160.4M182.3 160.4L185.2 159.1L188.9 159.6L189.3 158.1L191.6 158.7L194.6 159.8L198.9 159.6L200.6 159.9L202.4 159.8L202.7 157.0L204.9 156.8L207.4 159.6L209.4 160.7L212.1 161.1L210.8 163.8L209.6 163.9L209.6 165.6M182.3 160.4L184.6 163.4L187.4 164.3L188.0 165.6L193.3 166.4L196.4 165.6L197.7 163.9L200.2 163.0L202.5 162.2L200.6 159.9M182.3 160.4L181.1 162.2L179.3 163.6L177.7 165.9L173.8 168.0L174.6 169.8L176.4 170.9L177.1 173.0L178.3 174.7L181.4 176.2L183.2 176.2L185.2 176.3L188.3 176.0L189.3 178.2L189.6 180.2L191.1 180.8L191.4 179.9L193.5 179.4L194.4 180.2L195.2 180.5M177.7 165.9L173.9 165.3L172.1 165.7L170.2 166.9L168.9 166.9L165.8 164.4L164.3 163.4L162.7 163.8L162.7 166.6L160.8 166.1M173.8 168.0L171.4 167.5L172.1 165.7M173.8 168.0L172.1 168.1L170.2 166.9M170.2 166.9L170.1 169.7L172.4 170.2M169.3 169.5L166.4 168.0M162.7 166.6L164.3 165.6L166.4 168.0L168.9 166.9M170.3 179.1L172.1 178.6L171.2 176.9L173.3 174.8L174.3 174.1L173.9 172.7L175.8 170.9M178.3 174.7L177.7 175.6L180.2 176.6L182.7 177.3L183.2 176.2M182.7 177.3L183.3 180.4M185.4 181.0L185.5 178.9L186.8 178.2L188.3 176.0M182.7 177.3L185.2 178.1L185.5 178.9M183.2 176.2L183.3 177.0L185.2 176.9L185.2 176.3M166.3 178.1L166.1 175.1L168.9 174.9L171.1 173.4L172.1 171.6L172.4 170.2L174.6 169.8M166.1 175.1L165.6 172.3L165.9 170.8L167.7 170.5L169.3 169.5L172.4 170.2M165.9 170.8L163.9 169.3L161.4 169.5M158.0 174.8L156.4 172.7L156.4 170.9L155.7 169.7L155.5 167.8L157.7 168.0L158.3 168.7M150.2 170.5L151.4 170.0L153.9 169.7L155.7 169.7M157.7 174.9L156.8 175.5L155.6 175.4L152.1 173.4L152.1 172.4L153.3 171.7L154.1 169.7M154.4 183.9L157.1 183.5L160.2 182.2L162.1 181.6L162.4 179.8L160.6 179.6L159.9 178.8M160.2 182.2L160.9 183.8M162.4 179.8L162.9 178.3M149.6 175.1L151.1 174.8L150.8 173.8L152.1 173.4M149.5 175.1L149.1 173.9M149.9 172.9L149.9 173.8L149.6 175.1M149.9 172.9L150.7 173.2L152.1 173.2M149.6 172.6L150.1 172.5L150.6 171.8L150.2 171.6M190.9 180.6L190.2 181.4L188.8 182.5L189.5 184.0L189.1 184.8L189.7 187.0L189.3 188.0M190.2 181.4L191.4 181.9L190.8 183.2L193.1 183.2L193.7 185.1L191.9 185.3L192.0 186.9M191.4 179.9L192.7 181.2L193.7 182.5L194.9 185.0L194.9 186.6L193.9 187.4L193.0 187.8M193.7 185.1L194.9 185.0M190.2 190.3L191.4 190.6M196.2 193.1L197.4 193.8L199.3 193.4L200.1 191.7L201.2 191.7M215.8 196.0L215.8 200.2M205.4 167.6L206.8 166.3L207.9 166.5L209.3 165.8M206.4 169.2L207.9 168.6M205.3 200.3L205.9 200.2L205.8 199.8" fill="none" stroke="#ffffff" stroke-opacity="0.55" stroke-width="0.35" stroke-linejoin="round"/>
<!-- wavy lines -->
<g fill="none" stroke-linecap="round">
<g clip-path="url(#c1)"><path d="M5.0 311.0C5.2 310.9 4.6 310.9 6.2 310.5C7.8 310.1 11.7 309.8 14.4 308.9C17.1 308.0 19.9 307.0 22.6 305.4C25.4 303.8 28.1 301.9 30.9 299.2C33.6 296.4 36.7 292.3 39.1 288.9C41.5 285.5 43.2 282.1 45.3 278.7C47.3 275.3 49.3 271.5 51.4 268.4C53.5 265.3 55.5 262.3 57.6 260.1C59.7 257.9 61.4 256.5 63.8 255.0C66.2 253.5 68.9 252.2 72.0 251.3C75.1 250.4 78.9 250.1 82.3 249.4C85.7 248.7 89.6 247.9 92.6 247.2C95.5 246.5 96.7 246.3 100.0 245.1C103.3 243.9 108.5 242.2 112.3 240.1C116.1 238.0 119.4 235.0 123.0 232.6C126.6 230.2 130.1 227.3 133.7 225.4C137.3 223.5 141.1 221.9 144.4 220.9C147.7 219.9 149.7 220.1 153.4 219.4C157.1 218.7 162.7 217.9 166.7 216.7C170.7 215.5 173.8 214.2 177.4 212.1C181.0 210.0 184.5 207.2 188.1 204.1C191.7 201.0 195.2 196.4 198.8 193.4C202.4 190.4 205.9 187.9 209.5 186.2C213.1 184.5 216.6 183.9 220.2 183.3C223.8 182.7 227.3 182.3 230.9 182.7C234.5 183.0 238.0 183.4 241.6 185.4C245.2 187.4 248.7 190.6 252.3 194.8C255.9 199.0 259.4 205.0 263.0 210.8C266.6 216.6 270.1 223.7 273.7 229.5C277.3 235.3 280.5 240.9 284.4 245.6C288.3 250.3 292.6 255.2 296.9 257.7C301.2 260.2 305.8 260.5 310.2 260.4C314.6 260.3 319.1 259.9 323.6 256.9C328.1 253.9 333.0 247.8 337.0 242.2C341.0 236.6 344.1 230.0 347.7 223.5C351.3 217.0 354.8 209.0 358.4 203.4C361.9 197.8 365.4 193.1 369.0 190.0C372.6 186.9 374.8 185.8 380.0 184.7C385.2 183.6 394.3 184.3 400.0 183.7C405.7 183.0 409.6 182.2 414.4 180.8C419.2 179.5 424.0 176.9 428.8 175.6C433.6 174.3 438.4 173.7 443.2 173.0C448.0 172.3 452.9 172.1 457.7 171.6C462.5 171.1 467.8 170.9 472.1 169.9C476.4 168.9 480.2 167.4 483.6 165.5C487.0 163.6 489.4 161.3 492.3 158.6C495.2 155.9 498.0 152.1 500.9 149.1C503.8 146.1 506.7 142.9 509.6 140.5C512.5 138.1 515.3 136.1 518.2 134.7C521.1 133.2 523.8 132.5 526.9 131.8C530.0 131.1 535.3 130.6 537.0 130.4" stroke="#d2d2d2" stroke-width="2.1"/><path d="M5.0 311.2C5.2 311.1 4.6 311.1 6.2 310.5C7.8 309.9 11.7 309.0 14.4 307.5C17.1 306.0 20.2 303.7 22.6 301.3C25.0 298.9 26.7 296.3 28.8 293.0C30.9 289.7 32.9 285.6 35.0 281.7C37.1 277.8 39.2 273.5 41.2 269.4C43.2 265.3 45.2 260.9 47.3 257.0C49.3 253.1 51.4 248.9 53.5 245.7C55.6 242.4 57.6 239.8 59.7 237.5C61.8 235.2 63.9 233.4 65.9 231.9C68.0 230.4 69.6 229.4 72.0 228.6C74.4 227.8 77.5 226.9 80.3 226.8C83.0 226.7 85.2 227.1 88.5 227.8C91.8 228.6 96.9 230.4 100.0 231.3C103.1 232.2 104.0 231.9 107.0 233.4C110.0 234.9 114.1 237.9 117.7 240.1C121.3 242.3 124.9 244.8 128.4 246.8C132.0 248.8 135.3 250.8 139.0 252.1C142.7 253.4 146.5 254.5 150.7 254.9C154.9 255.3 160.0 255.3 164.0 254.4C168.0 253.5 171.2 252.2 174.8 249.6C178.4 247.0 181.9 243.1 185.5 238.9C189.1 234.7 192.6 228.9 196.2 224.2C199.8 219.5 203.2 214.4 206.8 210.8C210.4 207.2 213.9 204.7 217.5 202.8C221.1 200.9 224.6 200.1 228.2 199.6C231.8 199.1 235.3 198.9 238.9 200.1C242.5 201.3 246.0 203.0 249.6 206.8C253.2 210.6 256.7 216.8 260.3 222.8C263.9 228.8 267.4 236.2 271.0 242.9C274.6 249.6 278.7 257.9 281.7 262.9C284.7 267.9 286.5 270.2 289.0 273.0C291.5 275.8 293.8 277.8 296.9 279.6C300.0 281.4 303.9 283.2 307.5 283.6C311.1 284.1 314.6 283.2 318.2 282.3C321.8 281.4 324.9 280.5 328.9 278.3C332.9 276.1 337.8 272.2 342.3 268.9C346.8 265.5 351.9 260.6 355.7 258.2C359.5 255.8 360.1 256.2 365.0 254.2C369.9 252.2 378.3 248.7 385.0 246.0C391.7 243.3 399.5 240.3 405.0 238.0C410.5 235.7 414.8 234.1 418.0 232.0C421.2 229.9 422.2 228.5 424.5 225.5C426.8 222.5 429.1 217.1 431.7 214.0C434.3 210.9 437.5 208.6 440.4 206.8C443.3 205.0 446.1 204.0 449.0 203.3C451.9 202.6 454.8 202.8 457.7 202.4C460.6 202.0 463.4 202.2 466.3 201.0C469.2 199.8 472.1 198.1 475.0 195.2C477.9 192.3 480.7 188.5 483.6 183.7C486.5 178.9 489.7 171.9 492.3 166.4C494.9 160.9 497.4 155.6 499.5 150.5C501.6 145.4 503.3 140.7 505.2 136.1C507.1 131.5 508.8 127.3 511.0 123.2C513.2 119.1 516.0 114.7 518.2 111.6C520.4 108.5 523.0 105.6 524.0 104.4" stroke="#f3da8b" stroke-width="2.1"/></g>
<g clip-path="url(#c2)"><path d="M5.0 311.0C5.2 310.9 4.6 310.9 6.2 310.5C7.8 310.1 11.7 309.8 14.4 308.9C17.1 308.0 19.9 307.0 22.6 305.4C25.4 303.8 28.1 301.9 30.9 299.2C33.6 296.4 36.7 292.3 39.1 288.9C41.5 285.5 43.2 282.1 45.3 278.7C47.3 275.3 49.3 271.5 51.4 268.4C53.5 265.3 55.5 262.3 57.6 260.1C59.7 257.9 61.4 256.5 63.8 255.0C66.2 253.5 68.9 252.2 72.0 251.3C75.1 250.4 78.9 250.1 82.3 249.4C85.7 248.7 89.6 247.9 92.6 247.2C95.5 246.5 96.7 246.3 100.0 245.1C103.3 243.9 108.5 242.2 112.3 240.1C116.1 238.0 119.4 235.0 123.0 232.6C126.6 230.2 130.1 227.3 133.7 225.4C137.3 223.5 141.1 221.9 144.4 220.9C147.7 219.9 149.7 220.1 153.4 219.4C157.1 218.7 162.7 217.9 166.7 216.7C170.7 215.5 173.8 214.2 177.4 212.1C181.0 210.0 184.5 207.2 188.1 204.1C191.7 201.0 195.2 196.4 198.8 193.4C202.4 190.4 205.9 187.9 209.5 186.2C213.1 184.5 216.6 183.9 220.2 183.3C223.8 182.7 227.3 182.3 230.9 182.7C234.5 183.0 238.0 183.4 241.6 185.4C245.2 187.4 248.7 190.6 252.3 194.8C255.9 199.0 259.4 205.0 263.0 210.8C266.6 216.6 270.1 223.7 273.7 229.5C277.3 235.3 280.5 240.9 284.4 245.6C288.3 250.3 292.6 255.2 296.9 257.7C301.2 260.2 305.8 260.5 310.2 260.4C314.6 260.3 319.1 259.9 323.6 256.9C328.1 253.9 333.0 247.8 337.0 242.2C341.0 236.6 344.1 230.0 347.7 223.5C351.3 217.0 354.8 209.0 358.4 203.4C361.9 197.8 365.4 193.1 369.0 190.0C372.6 186.9 374.8 185.8 380.0 184.7C385.2 183.6 394.3 184.3 400.0 183.7C405.7 183.0 409.6 182.2 414.4 180.8C419.2 179.5 424.0 176.9 428.8 175.6C433.6 174.3 438.4 173.7 443.2 173.0C448.0 172.3 452.9 172.1 457.7 171.6C462.5 171.1 467.8 170.9 472.1 169.9C476.4 168.9 480.2 167.4 483.6 165.5C487.0 163.6 489.4 161.3 492.3 158.6C495.2 155.9 498.0 152.1 500.9 149.1C503.8 146.1 506.7 142.9 509.6 140.5C512.5 138.1 515.3 136.1 518.2 134.7C521.1 133.2 523.8 132.5 526.9 131.8C530.0 131.1 535.3 130.6 537.0 130.4" stroke="#d8d8d8" stroke-width="2.0"/><path d="M5.0 311.2C5.2 311.1 4.6 311.1 6.2 310.5C7.8 309.9 11.7 309.0 14.4 307.5C17.1 306.0 20.2 303.7 22.6 301.3C25.0 298.9 26.7 296.3 28.8 293.0C30.9 289.7 32.9 285.6 35.0 281.7C37.1 277.8 39.2 273.5 41.2 269.4C43.2 265.3 45.2 260.9 47.3 257.0C49.3 253.1 51.4 248.9 53.5 245.7C55.6 242.4 57.6 239.8 59.7 237.5C61.8 235.2 63.9 233.4 65.9 231.9C68.0 230.4 69.6 229.4 72.0 228.6C74.4 227.8 77.5 226.9 80.3 226.8C83.0 226.7 85.2 227.1 88.5 227.8C91.8 228.6 96.9 230.4 100.0 231.3C103.1 232.2 104.0 231.9 107.0 233.4C110.0 234.9 114.1 237.9 117.7 240.1C121.3 242.3 124.9 244.8 128.4 246.8C132.0 248.8 135.3 250.8 139.0 252.1C142.7 253.4 146.5 254.5 150.7 254.9C154.9 255.3 160.0 255.3 164.0 254.4C168.0 253.5 171.2 252.2 174.8 249.6C178.4 247.0 181.9 243.1 185.5 238.9C189.1 234.7 192.6 228.9 196.2 224.2C199.8 219.5 203.2 214.4 206.8 210.8C210.4 207.2 213.9 204.7 217.5 202.8C221.1 200.9 224.6 200.1 228.2 199.6C231.8 199.1 235.3 198.9 238.9 200.1C242.5 201.3 246.0 203.0 249.6 206.8C253.2 210.6 256.7 216.8 260.3 222.8C263.9 228.8 267.4 236.2 271.0 242.9C274.6 249.6 278.7 257.9 281.7 262.9C284.7 267.9 286.5 270.2 289.0 273.0C291.5 275.8 293.8 277.8 296.9 279.6C300.0 281.4 303.9 283.2 307.5 283.6C311.1 284.1 314.6 283.2 318.2 282.3C321.8 281.4 324.9 280.5 328.9 278.3C332.9 276.1 337.8 272.2 342.3 268.9C346.8 265.5 351.9 260.6 355.7 258.2C359.5 255.8 360.1 256.2 365.0 254.2C369.9 252.2 378.3 248.7 385.0 246.0C391.7 243.3 399.5 240.3 405.0 238.0C410.5 235.7 414.8 234.1 418.0 232.0C421.2 229.9 422.2 228.5 424.5 225.5C426.8 222.5 429.1 217.1 431.7 214.0C434.3 210.9 437.5 208.6 440.4 206.8C443.3 205.0 446.1 204.0 449.0 203.3C451.9 202.6 454.8 202.8 457.7 202.4C460.6 202.0 463.4 202.2 466.3 201.0C469.2 199.8 472.1 198.1 475.0 195.2C477.9 192.3 480.7 188.5 483.6 183.7C486.5 178.9 489.7 171.9 492.3 166.4C494.9 160.9 497.4 155.6 499.5 150.5C501.6 145.4 503.3 140.7 505.2 136.1C507.1 131.5 508.8 127.3 511.0 123.2C513.2 119.1 516.0 114.7 518.2 111.6C520.4 108.5 523.0 105.6 524.0 104.4" stroke="#f7e2a2" stroke-width="2.0"/></g>
<g clip-path="url(#c3)"><path d="M5.0 311.0C5.2 310.9 4.6 310.9 6.2 310.5C7.8 310.1 11.7 309.8 14.4 308.9C17.1 308.0 19.9 307.0 22.6 305.4C25.4 303.8 28.1 301.9 30.9 299.2C33.6 296.4 36.7 292.3 39.1 288.9C41.5 285.5 43.2 282.1 45.3 278.7C47.3 275.3 49.3 271.5 51.4 268.4C53.5 265.3 55.5 262.3 57.6 260.1C59.7 257.9 61.4 256.5 63.8 255.0C66.2 253.5 68.9 252.2 72.0 251.3C75.1 250.4 78.9 250.1 82.3 249.4C85.7 248.7 89.6 247.9 92.6 247.2C95.5 246.5 96.7 246.3 100.0 245.1C103.3 243.9 108.5 242.2 112.3 240.1C116.1 238.0 119.4 235.0 123.0 232.6C126.6 230.2 130.1 227.3 133.7 225.4C137.3 223.5 141.1 221.9 144.4 220.9C147.7 219.9 149.7 220.1 153.4 219.4C157.1 218.7 162.7 217.9 166.7 216.7C170.7 215.5 173.8 214.2 177.4 212.1C181.0 210.0 184.5 207.2 188.1 204.1C191.7 201.0 195.2 196.4 198.8 193.4C202.4 190.4 205.9 187.9 209.5 186.2C213.1 184.5 216.6 183.9 220.2 183.3C223.8 182.7 227.3 182.3 230.9 182.7C234.5 183.0 238.0 183.4 241.6 185.4C245.2 187.4 248.7 190.6 252.3 194.8C255.9 199.0 259.4 205.0 263.0 210.8C266.6 216.6 270.1 223.7 273.7 229.5C277.3 235.3 280.5 240.9 284.4 245.6C288.3 250.3 292.6 255.2 296.9 257.7C301.2 260.2 305.8 260.5 310.2 260.4C314.6 260.3 319.1 259.9 323.6 256.9C328.1 253.9 333.0 247.8 337.0 242.2C341.0 236.6 344.1 230.0 347.7 223.5C351.3 217.0 354.8 209.0 358.4 203.4C361.9 197.8 365.4 193.1 369.0 190.0C372.6 186.9 374.8 185.8 380.0 184.7C385.2 183.6 394.3 184.3 400.0 183.7C405.7 183.0 409.6 182.2 414.4 180.8C419.2 179.5 424.0 176.9 428.8 175.6C433.6 174.3 438.4 173.7 443.2 173.0C448.0 172.3 452.9 172.1 457.7 171.6C462.5 171.1 467.8 170.9 472.1 169.9C476.4 168.9 480.2 167.4 483.6 165.5C487.0 163.6 489.4 161.3 492.3 158.6C495.2 155.9 498.0 152.1 500.9 149.1C503.8 146.1 506.7 142.9 509.6 140.5C512.5 138.1 515.3 136.1 518.2 134.7C521.1 133.2 523.8 132.5 526.9 131.8C530.0 131.1 535.3 130.6 537.0 130.4" stroke="url(#fadeG)" stroke-width="1.5"/><path d="M5.0 311.2C5.2 311.1 4.6 311.1 6.2 310.5C7.8 309.9 11.7 309.0 14.4 307.5C17.1 306.0 20.2 303.7 22.6 301.3C25.0 298.9 26.7 296.3 28.8 293.0C30.9 289.7 32.9 285.6 35.0 281.7C37.1 277.8 39.2 273.5 41.2 269.4C43.2 265.3 45.2 260.9 47.3 257.0C49.3 253.1 51.4 248.9 53.5 245.7C55.6 242.4 57.6 239.8 59.7 237.5C61.8 235.2 63.9 233.4 65.9 231.9C68.0 230.4 69.6 229.4 72.0 228.6C74.4 227.8 77.5 226.9 80.3 226.8C83.0 226.7 85.2 227.1 88.5 227.8C91.8 228.6 96.9 230.4 100.0 231.3C103.1 232.2 104.0 231.9 107.0 233.4C110.0 234.9 114.1 237.9 117.7 240.1C121.3 242.3 124.9 244.8 128.4 246.8C132.0 248.8 135.3 250.8 139.0 252.1C142.7 253.4 146.5 254.5 150.7 254.9C154.9 255.3 160.0 255.3 164.0 254.4C168.0 253.5 171.2 252.2 174.8 249.6C178.4 247.0 181.9 243.1 185.5 238.9C189.1 234.7 192.6 228.9 196.2 224.2C199.8 219.5 203.2 214.4 206.8 210.8C210.4 207.2 213.9 204.7 217.5 202.8C221.1 200.9 224.6 200.1 228.2 199.6C231.8 199.1 235.3 198.9 238.9 200.1C242.5 201.3 246.0 203.0 249.6 206.8C253.2 210.6 256.7 216.8 260.3 222.8C263.9 228.8 267.4 236.2 271.0 242.9C274.6 249.6 278.7 257.9 281.7 262.9C284.7 267.9 286.5 270.2 289.0 273.0C291.5 275.8 293.8 277.8 296.9 279.6C300.0 281.4 303.9 283.2 307.5 283.6C311.1 284.1 314.6 283.2 318.2 282.3C321.8 281.4 324.9 280.5 328.9 278.3C332.9 276.1 337.8 272.2 342.3 268.9C346.8 265.5 351.9 260.6 355.7 258.2C359.5 255.8 360.1 256.2 365.0 254.2C369.9 252.2 378.3 248.7 385.0 246.0C391.7 243.3 399.5 240.3 405.0 238.0C410.5 235.7 414.8 234.1 418.0 232.0C421.2 229.9 422.2 228.5 424.5 225.5C426.8 222.5 429.1 217.1 431.7 214.0C434.3 210.9 437.5 208.6 440.4 206.8C443.3 205.0 446.1 204.0 449.0 203.3C451.9 202.6 454.8 202.8 457.7 202.4C460.6 202.0 463.4 202.2 466.3 201.0C469.2 199.8 472.1 198.1 475.0 195.2C477.9 192.3 480.7 188.5 483.6 183.7C486.5 178.9 489.7 171.9 492.3 166.4C494.9 160.9 497.4 155.6 499.5 150.5C501.6 145.4 503.3 140.7 505.2 136.1C507.1 131.5 508.8 127.3 511.0 123.2C513.2 119.1 516.0 114.7 518.2 111.6C520.4 108.5 523.0 105.6 524.0 104.4" stroke="url(#fadeY)" stroke-width="1.4"/></g>
</g>
<!-- chart -->
<line x1="315" y1="408.5" x2="845.5" y2="408.5" stroke="#d9d9d9" stroke-width="1.2"/>
<line x1="619" y1="249.6" x2="711" y2="169" stroke="#cccccc" stroke-width="1"/>
<polygon points="716.4,164 704.6,167.7 714.1,175.4" fill="#cfcfcf"/>
<rect x="366.2" y="224.2" width="73.2" height="4.8" fill="#7d8084"/><rect x="366.2" y="229.0" width="73.2" height="18.5" fill="#f79646"/><rect x="366.2" y="247.5" width="73.2" height="42.3" fill="#3a7ab8"/><rect x="365.9" y="290.3" width="73.7" height="117.9" fill="#b73a32" stroke="#951d1b" stroke-width="1"/><rect x="544.0" y="217.8" width="72.8" height="4.7" fill="#7d8084"/><rect x="544.0" y="222.5" width="72.8" height="19.3" fill="#f79646"/><rect x="544.0" y="241.8" width="72.8" height="44.0" fill="#3a7ab8"/><rect x="543.7" y="286.3" width="73.3" height="121.9" fill="#b73a32" stroke="#951d1b" stroke-width="1"/><rect x="721.0" y="174.2" width="73.0" height="5.6" fill="#7d8084"/><rect x="721.0" y="179.8" width="73.0" height="25.7" fill="#f79646"/><rect x="721.0" y="205.5" width="73.0" height="56.5" fill="#3a7ab8"/><rect x="720.7" y="262.5" width="73.5" height="145.7" fill="#b73a32" stroke="#951d1b" stroke-width="1"/>
<ellipse cx="663.8" cy="204" rx="25.5" ry="17.3" fill="#f5821e"/>
<text x="652.2" y="208.4" font-size="14.8" fill="#ffffff" textLength="31.2" lengthAdjust="spacingAndGlyphs" >4.2%</text>
<text x="383.7" y="217.2" font-size="14.5" fill="#000000" textLength="31.2" lengthAdjust="spacingAndGlyphs" stroke="#000000" stroke-width="0.3">10.6</text>
<text x="564.7" y="210.0" font-size="14.5" fill="#000000" textLength="30.1" lengthAdjust="spacingAndGlyphs" stroke="#000000" stroke-width="0.3">10.9</text>
<text x="741.7" y="170.4" font-size="14.5" fill="#000000" textLength="30.8" lengthAdjust="spacingAndGlyphs" stroke="#000000" stroke-width="0.3">13.4</text>
<text x="382.7" y="435.0" font-size="15.3" fill="#111111" textLength="40.8" lengthAdjust="spacingAndGlyphs" stroke="#111111" stroke-width="0.15">2023</text>
<text x="559.3" y="435.0" font-size="15.3" fill="#111111" textLength="41.2" lengthAdjust="spacingAndGlyphs" stroke="#111111" stroke-width="0.15">2024</text>
<text x="736.3" y="435.0" font-size="15.3" fill="#111111" textLength="41.6" lengthAdjust="spacingAndGlyphs" stroke="#111111" stroke-width="0.15">2029</text>
<rect x="321.5" y="451.2" width="8.5" height="8.8" fill="#7f7f7f"/>
<text x="334.2" y="461.0" font-size="15.4" fill="#111111" textLength="174.1" lengthAdjust="spacingAndGlyphs" stroke="#111111" stroke-width="0.15">Rest of the World (RoW)</text>
<rect x="529.3" y="451.2" width="8.6" height="8.8" fill="#f79646"/>
<text x="542.0" y="461.0" font-size="15.4" fill="#111111" textLength="82.8" lengthAdjust="spacingAndGlyphs" stroke="#111111" stroke-width="0.15">Asia Pacific</text>
<rect x="645.7" y="451.2" width="8.5" height="8.8" fill="#3a7ab8"/>
<text x="657.8" y="461.0" font-size="15.4" fill="#111111" textLength="52.1" lengthAdjust="spacingAndGlyphs" stroke="#111111" stroke-width="0.15">Europe</text>
<rect x="730.1" y="450.9" width="8.8" height="8.8" fill="#b73a32" stroke="#a5221f" stroke-width="1"/>
<text x="743.2" y="461.0" font-size="15.4" fill="#111111" textLength="102.8" lengthAdjust="spacingAndGlyphs" stroke="#111111" stroke-width="0.15">North America</text>
<!-- left text -->
<text y="277.6" font-size="19.6" fill="#a3a3a3" stroke="#a3a3a3" stroke-width="0.95"><tspan x="28.5" textLength="43.9" lengthAdjust="spacingAndGlyphs">CAGR</tspan> <tspan x="77.1" textLength="20.5" lengthAdjust="spacingAndGlyphs">OF</tspan></text>
<text x="29.0" y="316.1" font-size="44.6" fill="#4472c4" textLength="55.8" lengthAdjust="spacingAndGlyphs" stroke="#4472c4" stroke-width="1.5">4.2</text>
<text x="87.0" y="316.4" font-size="26.2" fill="#4472c4" textLength="17.4" lengthAdjust="spacingAndGlyphs" stroke="#4472c4" stroke-width="0.9">%</text>
<text x="28.1" y="351.7" font-size="15.5" fill="#111111" textLength="200.3" lengthAdjust="spacingAndGlyphs" stroke="#111111" stroke-width="0.2">The global hearth market is</text>
<text x="28.1" y="372.5" font-size="15.5" fill="#111111" textLength="189.7" lengthAdjust="spacingAndGlyphs" stroke="#111111" stroke-width="0.2">expected to be worth USD</text>
<text x="28.4" y="393.2" font-size="15.5" fill="#111111" textLength="152.9" lengthAdjust="spacingAndGlyphs" stroke="#111111" stroke-width="0.2">13.4 billion by 2029,</text>
<text x="28.1" y="414.0" font-size="15.5" fill="#111111" textLength="194.8" lengthAdjust="spacingAndGlyphs" stroke="#111111" stroke-width="0.2">growing at a CAGR of 4.2%</text>
<text x="28.1" y="434.3" font-size="15.5" fill="#111111" textLength="192.7" lengthAdjust="spacingAndGlyphs" stroke="#111111" stroke-width="0.2">during the forecast period.</text>
<!-- header text -->
<text y="47.9" font-size="25.4" fill="#ffffff" font-weight="bold"><tspan x="32.8" textLength="79.0" lengthAdjust="spacingAndGlyphs">HEARTH</tspan> <tspan x="116.9" textLength="83.2" lengthAdjust="spacingAndGlyphs">MARKET</tspan></text>
<text y="69.4" font-size="19.5" fill="#e4e7ec" stroke="#e4e7ec" stroke-width="0.6"><tspan x="32.7" textLength="59.0" lengthAdjust="spacingAndGlyphs">GLOBAL</tspan> <tspan x="96.2" textLength="78.4" lengthAdjust="spacingAndGlyphs">FORECAST</tspan> <tspan x="178.1" textLength="19.9" lengthAdjust="spacingAndGlyphs">TO</tspan> <tspan x="201.7" textLength="41.3" lengthAdjust="spacingAndGlyphs">2029</tspan> <tspan x="247.2" textLength="37.3" lengthAdjust="spacingAndGlyphs">(USD</tspan> <tspan x="289.2" textLength="26.8" lengthAdjust="spacingAndGlyphs">BN)</tspan></text>
</svg>
</body></html>
